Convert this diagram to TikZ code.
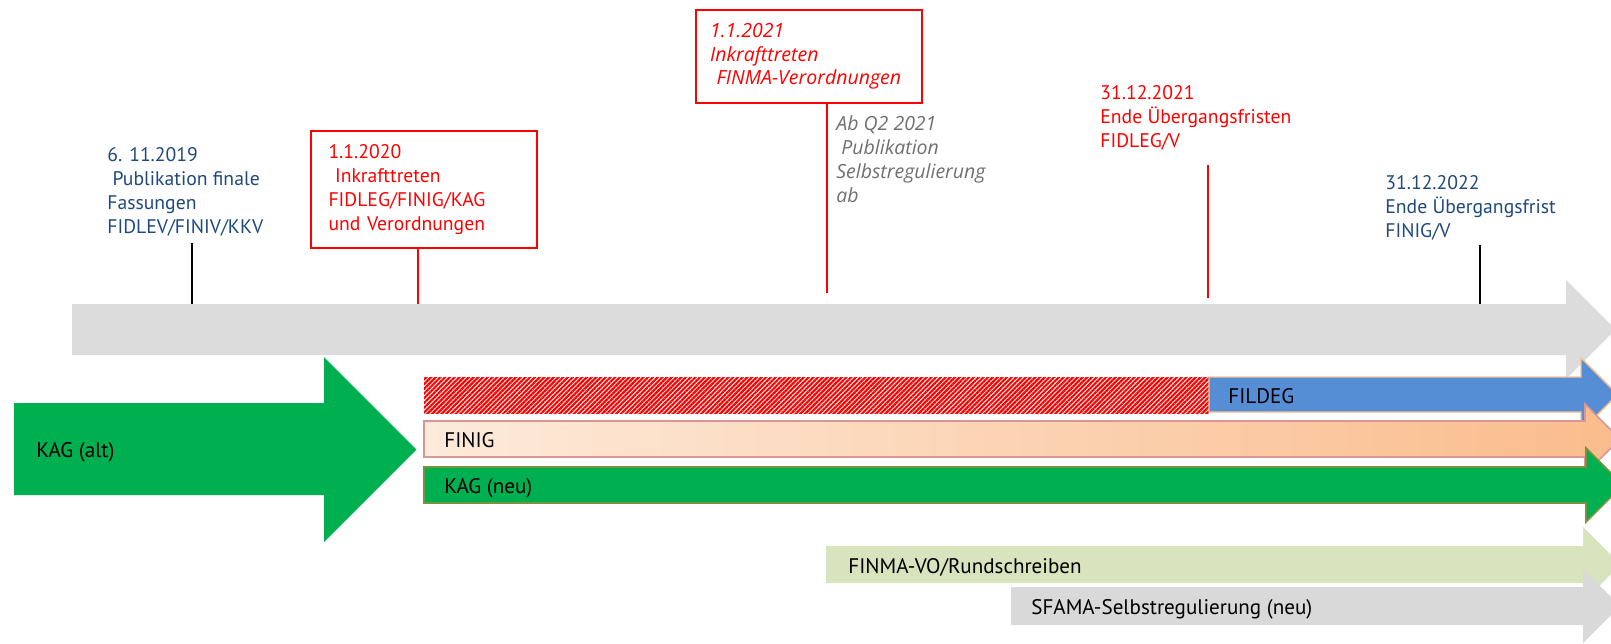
\documentclass[tikz,border=0pt]{standalone}
\usepackage{fontspec}
\setmainfont{PT Sans}
\newfontfamily\notefont{Open Sans}
\usepackage{xcolor}
\usetikzlibrary{positioning,patterns.meta,calc}
\definecolor{dateblue}{RGB}{31,73,125}
\definecolor{datered}{RGB}{255,0,0}
\definecolor{notegray}{RGB}{112,112,112}
\definecolor{axisgray}{RGB}{220,220,220}
\definecolor{kaggreen}{RGB}{0,176,80}
\definecolor{kagedge}{RGB}{119,147,60}
\definecolor{fidblue}{RGB}{85,142,213}
\definecolor{fidedge}{RGB}{250,192,144}
\definecolor{finigleft}{RGB}{253,234,218}
\definecolor{finigright}{RGB}{250,188,140}
\definecolor{finigedge}{RGB}{217,150,148}
\definecolor{finmagreen}{RGB}{215,228,189}
\definecolor{sfamagray}{RGB}{217,217,217}

\begin{document}
\begin{tikzpicture}[
    x=0.02cm, y=-0.02cm,
    font=\fontsize{12}{13.5}\selectfont,
    datefont/.style={font=\fontsize{11.2}{13.5}\selectfont},
    notefont/.style={font=\notefont\itshape\fontsize{11.1}{13.5}\selectfont},
    datetext/.style={datefont, anchor=base west, align=left, inner sep=0pt},
    datebox/.style={datefont, draw=datered, line width=1.1pt, text=datered, align=left,
        text width=3.82cm, inner xsep=0.35cm, inner ysep=0pt},
    tick/.style={line width=1.1pt},
    barlabel/.style={anchor=base west, inner sep=0pt, text=black}
]
\useasboundingbox (0,0) rectangle (1611,643);
\clip (0,0) rectangle (1611,643);

% timeline
\fill[axisgray] (72,304) -- (1566,304) -- (1566,280) -- (1615.5,329.5)
    -- (1566,379) -- (1566,355) -- (72,355) -- cycle;
\coordinate (t2019) at (192,304);
\coordinate (t2020) at (418,304);
\coordinate (t2021) at (827,293);
\coordinate (u2021) at (1208,298);
\coordinate (t2022) at (1480,304);

% dates above the timeline (anchored on their last line)
\node[datetext, text=dateblue] (d2019) at (107,233)
    {6. 11.2019\\\ Publikation finale\\Fassungen\\FIDLEV/FINIV/KKV};
\node[datebox, minimum height=2.34cm] (d2020) at (424,189.5)
    {1.1.2020\\\ Inkrafttreten\\FIDLEG/FINIG/KAG\\und Verordnungen};
\node[datebox, minimum height=1.86cm, notefont, text width=3.96cm, inner xsep=0.28cm] (d2021) at (809,56.5)
    {1.1.2021\\Inkrafttreten\\\mbox{\ FINMA-Verordnungen}};
\node[datetext, text=notegray, notefont] (q2021) at (836,202)
    {Ab Q2 2021\\\ Publikation\\Selbstregulierung\\ab};
\node[datetext, text=datered] (e2021) at (1100,147)
    {31.12.2021\\Ende Übergangsfristen\\FIDLEG/V};
\node[datetext, text=dateblue] (e2022) at (1385,237)
    {31.12.2022\\Ende Übergangsfrist\\FINIG/V};

\draw[tick] ([yshift=-4pt]d2019.south -| t2019) -- (t2019);
\draw[tick, datered] (d2020.south -| t2020) -- (t2020);
\draw[tick, datered] (d2021.south -| t2021) -- (t2021);
\draw[tick, datered] ([yshift=-8.5pt]e2021.south -| u2021) -- (u2021);
\draw[tick] ([yshift=-2.8pt]e2022.south -| t2022) -- (t2022);

% old law
\fill[kaggreen] (14,403) -- (324,403) -- (324,357) -- (416.5,449.5)
    -- (324,542) -- (324,495) -- (14,495) -- cycle;
\node[barlabel] (kagalt) at (36,457) {KAG (alt)};

% new laws
\fill[pattern={Lines[angle=45, distance=1.9pt, line width=1.25pt]}, pattern color=datered]
    (424,377) rectangle (1209,413);
\filldraw[fill=fidblue, draw=fidedge, line width=0.8pt] (1209,377) -- (1581,377) -- (1581,358)
    -- (1617.5,394.5) -- (1581,431) -- (1581,412) -- (1209,412) -- cycle;
\node[barlabel] (fildeg) at (1228,403) {FILDEG};

\shadedraw[left color=finigleft, right color=finigright, draw=finigedge, line width=0.9pt]
    (424,421) -- (1585,421) -- (1585,404) -- (1620,439) -- (1585,474) -- (1585,457)
    -- (424,457) -- cycle;
\node[barlabel] (finig) at (444,447) {FINIG};

\filldraw[fill=kaggreen, draw=kagedge, line width=0.9pt] (424,467) -- (1586,467) -- (1586,448)
    -- (1623,485) -- (1586,522) -- (1586,503) -- (424,503) -- cycle;
\node[barlabel] (kagneu) at (444,493) {KAG (neu)};

\fill[finmagreen] (826,546) -- (1583,546) -- (1583,527) -- (1620.5,564.5)
    -- (1583,602) -- (1583,583) -- (826,583) -- cycle;
\node[barlabel] (finmavo) at (848,573) {FINMA-VO/Rundschreiben};

\fill[sfamagray] (1011,587) -- (1583,587) -- (1583,569) -- (1620,606)
    -- (1583,643) -- (1583,625) -- (1011,625) -- cycle;
\node[barlabel] (sfama) at (1031,614) {SFAMA-Selbstregulierung (neu)};
\end{tikzpicture}
\end{document}
